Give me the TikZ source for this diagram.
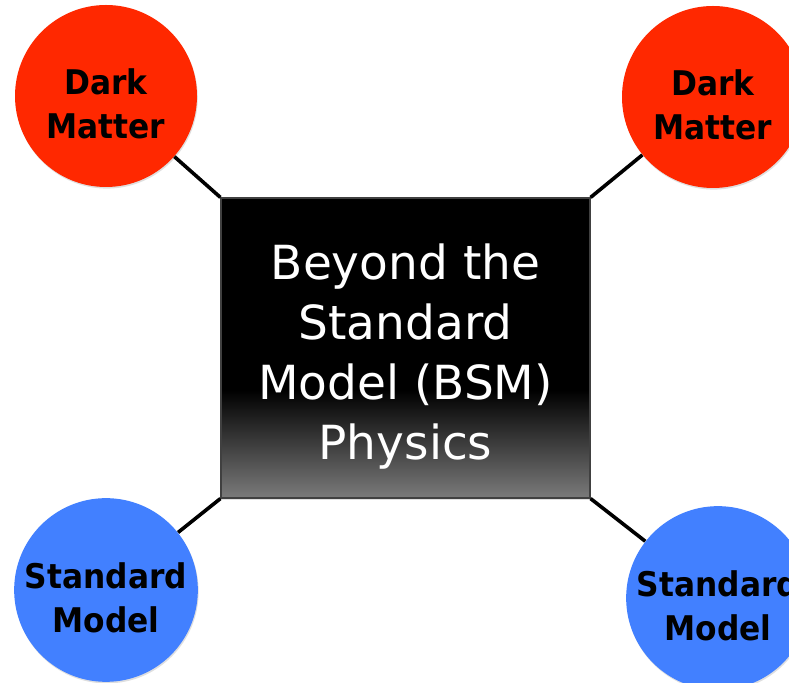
\documentclass[tikz,border=0pt]{standalone}
\usepackage{fontspec}
\setsansfont{DejaVu Sans}
\newfontfamily\topicfont[FakeStretch=0.92]{DejaVu Sans}
\usepackage{xcolor}
\usetikzlibrary{shadows}

\definecolor{dmred}{RGB}{255,40,0}
\definecolor{smblue}{RGB}{66,128,255}

% tall first line, pushes the two-line labels a little lower in the circle
\newcommand{\tstrut}{\rule{0pt}{21pt}}

% black box fading to grey near the bottom
\pgfdeclareverticalshading{bsmfade}{100bp}{color(0bp)=(black!52); color(25bp)=(black!52); color(43bp)=(black); color(75bp)=(black); color(100bp)=(black)}

\tikzset{
 topic/.style={circle, minimum size=91pt, inner sep=0pt, align=center,
   font=\topicfont\bfseries\fontsize{17}{22}\selectfont, text=black,
   drop shadow={opacity=0.25, shadow xshift=0.4pt, shadow yshift=-0.8pt}},
 darkmatter/.style={topic, fill=dmred},
 standard/.style={topic, fill=smblue},
 bsmbox/.style={rectangle, minimum width=184.5pt, minimum height=150pt,
   shading=bsmfade, draw=black!75, line width=0.6pt,
   drop shadow={opacity=0.25, shadow xshift=0.6pt, shadow yshift=-0.8pt}},
 bsmtext/.style={align=center, text=white, font=\sffamily\fontsize{23.5}{30}\selectfont},
 link/.style={line width=1.8pt, black},
}

\begin{document}
\begin{tikzpicture}[x=0.5pt,y=-0.5pt]
 \clip (0,0) rectangle (789,683);
 \fill[white] (0,0) rectangle (789,683);

 %centre box:
 \node[bsmbox] (bsm) at (405.5,348) {};
 \node[bsmtext] (bsmlabel) at (405.5,357) {Beyond the\\Standard\\Model (BSM)\\Physics};

 %corner topics:
 \node[darkmatter] (dmL) at (106,96) {\tstrut Dark\\Matter};
 \node[darkmatter] (dmR) at (713,97) {\tstrut Dark\\Matter};
 \node[standard] (smL) at (106,590) {\tstrut Standard\\Model};
 \node[standard] (smR) at (718,598) {\tstrut Standard\\Model};

 \draw[link] (dmL) -- (bsm.north west);
 \draw[link] (dmR) -- (bsm.north east);
 \draw[link] (smL) -- (bsm.south west);
 \draw[link] (smR) -- (bsm.south east);
\end{tikzpicture}
\end{document}
